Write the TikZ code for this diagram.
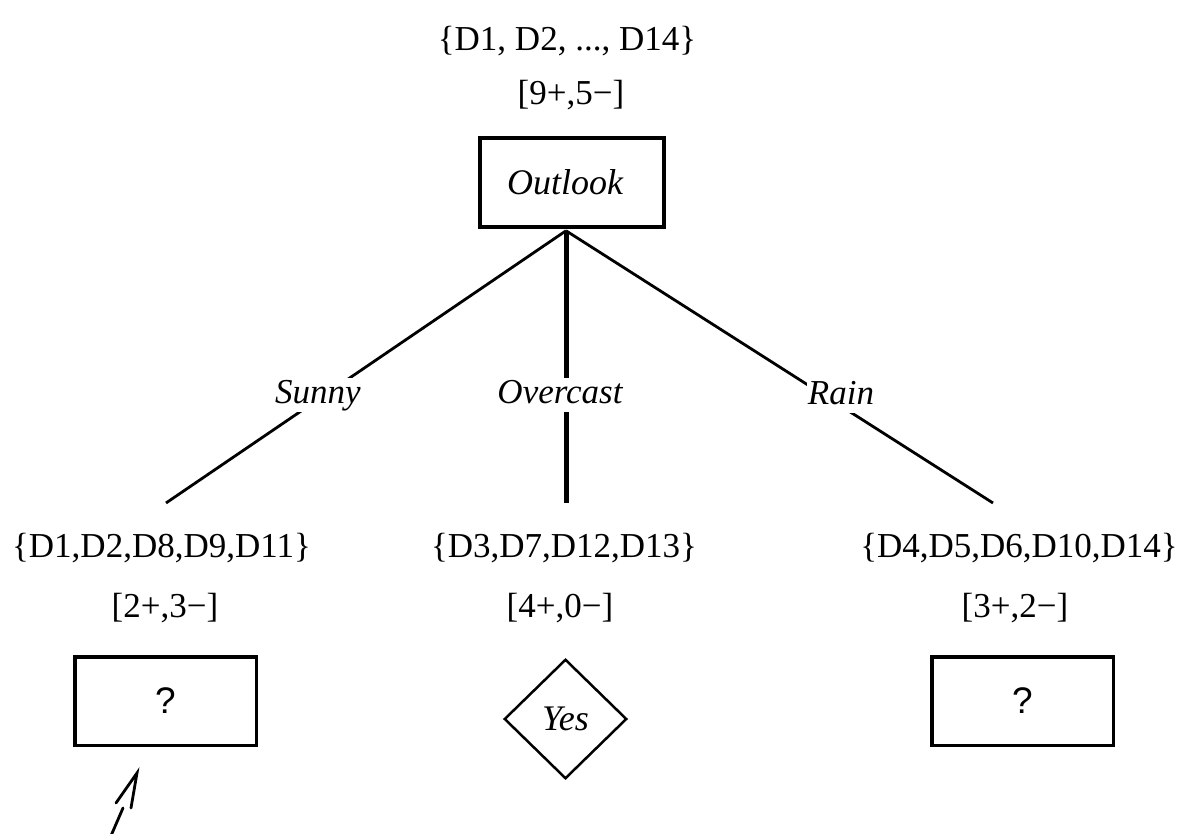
\documentclass[tikz,border=0pt]{standalone}
\usepackage{fontspec}
\setmainfont{Liberation Serif}
\newfontfamily\arialfont{Liberation Sans}
\usetikzlibrary{shapes.geometric}
\begin{document}
\begin{tikzpicture}[x=1pt,y=-1pt,
  txt/.style={font=\fontsize{35}{42}\selectfont, inner sep=0pt, anchor=base},
  itlabel/.style={font=\fontsize{35}{42}\selectfont\itshape, fill=white, inner sep=1pt,
                  text height=24pt, text depth=8pt, anchor=base},
  boxnode/.style={draw, line width=3.5pt, inner sep=0pt,
                  minimum width=184pt, minimum height=89pt},
  qbox/.style={boxnode, font=\fontsize{37}{44}\selectfont\arialfont,
               minimum width=181.5pt, minimum height=88.5pt},
  leafnode/.style={draw, diamond, line width=2.5pt, inner sep=0pt,
                   minimum width=122.5pt, minimum height=119.5pt,
                   font=\fontsize{36}{42}\selectfont\itshape},
  branch/.style={line width=2.8pt},
  thickbranch/.style={line width=5pt},
  pointer/.style={line width=2.8pt, line cap=round, line join=miter}]
\clip (0,0) rectangle (1189,834);
\fill[white] (0,0) rectangle (1189,834);

% root
\node[txt] (rootset) at (567,51) {\{D1, D2, ..., D14\}};
\node[txt] (rootcount) at (571,105) {[9+,5−]};
\node[boxnode] (outlook) at (572,182.5) {\fontsize{36}{42}\selectfont\itshape\hspace*{-14pt}Outlook};
\coordinate (apex) at ([xshift=-6pt,yshift=-2pt]outlook.south);

% branch ends
\coordinate (sunnyend) at (166,503);
\coordinate (overend) at (566,503);
\coordinate (rainend) at (993,503);

\draw[branch] (apex) -- (sunnyend);
\draw[thickbranch] (apex) -- (overend);
\draw[branch] (apex) -- (rainend);

% branch labels
\node[itlabel] (sunny) at (318,403) {Sunny};
\node[itlabel] (overcast) at (560,403) {Overcast};
\node[itlabel] (rain) at (841,404) {Rain};

% second level
\node[txt] (lset) at (161.5,557) {\{D1,D2,D8,D9,D11\}};
\node[txt] (mset) at (564,557) {\{D3,D7,D12,D13\}};
\node[txt] (rset) at (1019,557) {\{D4,D5,D6,D10,D14\}};
\node[txt] (lcount) at (165,617) {[2+,3−]};
\node[txt] (mcount) at (560,617) {[4+,0−]};
\node[txt] (rcount) at (1015,617) {[3+,2−]};

\node[qbox] (lq) at (165.5,701) {?};
\node[leafnode] (yes) at (565.5,719) {Yes};
\node[qbox] (rq) at (1022.5,701) {?};

% pointer arrow
\coordinate (ptail) at (107,845);
\coordinate (pshaft) at (123,808);
\coordinate (ptip) at (137,773);
\coordinate (parmL) at (116,803);
\coordinate (parmR) at (131,808);
\draw[pointer] (ptail) -- (pshaft);
\draw[pointer] (parmL) -- (ptip) -- (parmR);
\end{tikzpicture}
\end{document}
